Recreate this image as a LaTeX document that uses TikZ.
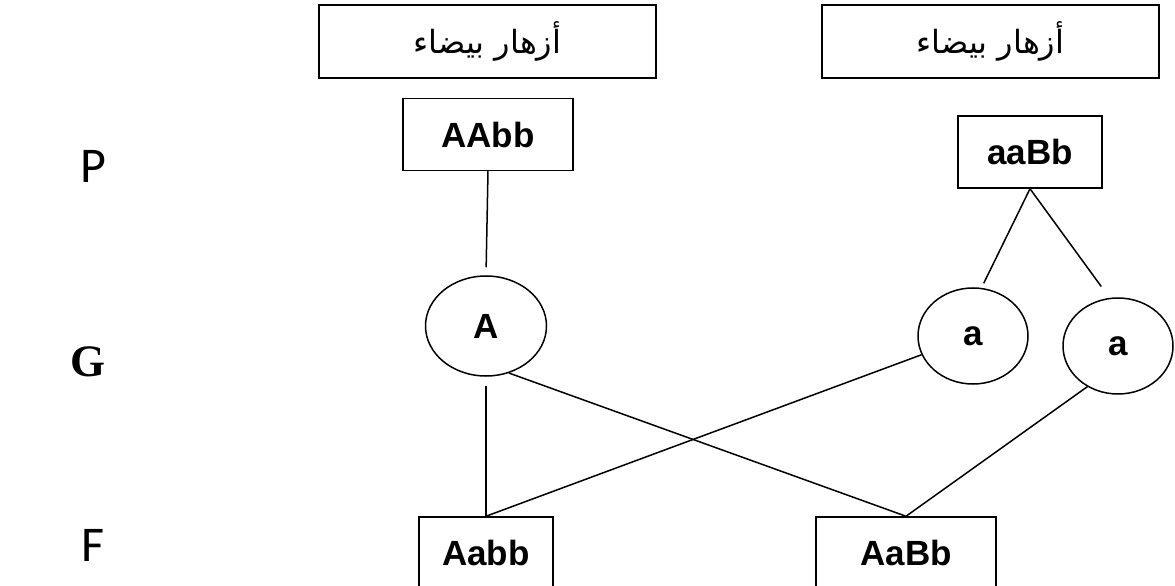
\documentclass[tikz,border=0pt]{standalone}
\usepackage{fontspec}
\setmainfont{Liberation Sans}
\newfontfamily\arabicfont[Script=Arabic]{DejaVu Sans}
\newfontfamily\calfont{Carlito}
\newfontfamily\serfont{Liberation Serif}
\TeXXeTstate=1
\usetikzlibrary{shapes.geometric}
\begin{document}
\begin{tikzpicture}[x=1bp,y=-1bp,line width=1.5bp,
  topbox/.style={draw, rectangle, inner sep=0pt, minimum width=337bp, minimum height=73bp,
     font=\arabicfont\fontsize{32bp}{36bp}\selectfont},
  genobox/.style={draw, rectangle, inner sep=0pt, minimum height=72bp,
     font=\fontsize{35bp}{40bp}\selectfont\bfseries},
  gamete/.style={draw, ellipse, inner sep=0pt, font=\fontsize{35bp}{40bp}\selectfont\bfseries},
  rowlabel/.style={inner sep=0pt, font=\calfont\fontsize{50bp}{56bp}\selectfont},
  conn/.style={line width=1.5bp}
]
\useasboundingbox (0,0) rectangle (1175,586);
\clip (0,0) rectangle (1175,586);
% top boxes
\node[topbox] (t1) at (487.5,41.5) {\beginR أزهار بيضاء\endR};
\node[topbox] (t2) at (990.5,41.5) {\beginR أزهار بيضاء\endR};
% parents
\node[genobox, minimum width=170bp] (p1) at (488,134.5) {AAbb};
\node[genobox, minimum width=144bp] (p2) at (1030,152) {aaBb};
% gametes
\node[gamete, minimum width=121bp, minimum height=100bp] (g1) at (486,326) {A};
\node[gamete, minimum width=110bp, minimum height=96bp] (g2) at (973,336) {a};
\node[gamete, minimum width=110bp, minimum height=96bp] (g3) at (1118,346) {a};
% offspring
\node[genobox, minimum width=134bp] (f1) at (486,553) {Aabb};
\node[genobox, minimum width=180bp] (f2) at (906,553) {AaBb};
% row labels
\node[rowlabel] (lp) at (93,166) {P};
\node[inner sep=0pt, font=\serfont\fontsize{45bp}{50bp}\selectfont\bfseries] (lg) at (88,362) {G};
\node[rowlabel] (lf) at (93,545) {F};
% connectors
\draw[conn, shorten >=8bp] (p1.south) -- (g1.north);
\draw[conn, shorten >=5bp] (p2.south) -- (g2.80);
\draw[conn, shorten >=14bp] (p2.south) -- (g3.100);
\draw[conn, shorten <=9bp] (g1.south) -- (f1.north);
\draw[conn] (g1.-64) -- (f2.north);
\draw[conn] (g2.200) -- (f1.north);
\draw[conn] (g3.-127) -- (f2.north);
\end{tikzpicture}
\end{document}
